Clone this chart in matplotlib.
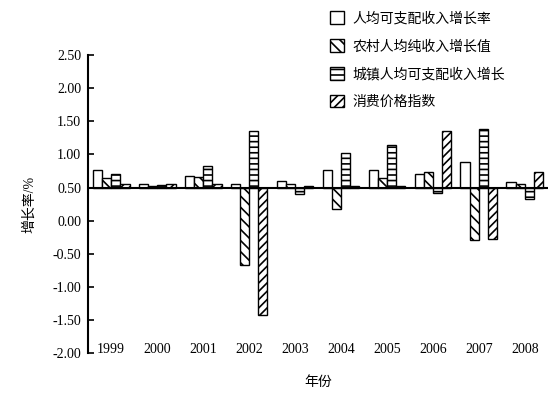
import numpy as np
import matplotlib.pyplot as plt

plt.rcParams['font.family'] = ['Liberation Serif', 'Noto Sans CJK SC']
plt.rcParams['axes.unicode_minus'] = False
plt.rcParams['hatch.linewidth'] = 1.2

# years on the x axis
years = ['1999', '2000', '2001', '2002', '2003', '2004', '2005', '2006', '2007', '2008']

# series values, read at the bar tips against the printed axis (bars start at 0.50)
s1 = [0.77, 0.56, 0.67, 0.56, 0.60, 0.76, 0.76, 0.71, 0.89, 0.58]
s2 = [0.65, 0.53, 0.66, -0.67, 0.56, 0.18, 0.64, 0.74, -0.29, 0.56]
s3 = [0.70, 0.54, 0.82, 1.35, 0.41, 1.02, 1.15, 0.42, 1.39, 0.32]
s4 = [0.56, 0.55, 0.55, -1.42, 0.52, 0.53, 0.53, 1.36, -0.27, 0.74]

labels = ['人均可支配收入增长率', '农村人均纯收入增长值', '城镇人均可支配收入增长', '消费价格指数']
hatches = ['', '\\\\\\', '---', '////']
baseline = 0.5

yticks = [2.5, 2.0, 1.5, 1.0, 0.5, 0.0, -0.5, -1.0, -1.5, -2.0]

fig = plt.figure(figsize=(5.55, 3.94), dpi=100)
ax = fig.add_axes([0.159, 0.104, 0.828, 0.756])

x = np.arange(len(years))
w = 0.2
series = [s1, s2, s3, s4]
handles = []
for i, vals in enumerate(series):
    vals = np.array(vals)
    b = ax.bar(x + (i - 1.5) * w, vals - baseline, width=w, bottom=baseline,
               color='white', edgecolor='black', hatch=hatches[i], linewidth=1.0)
    handles.append(b)

ax.axhline(baseline, color='black', lw=1.5)

ax.set_xlim(-0.5, len(years) - 0.5)
ax.set_ylim(-2.0, 2.5)
ax.set_yticks(yticks)
ax.set_yticklabels(['%.2f' % v for v in yticks])
ax.set_xticks(x)
ax.set_xticklabels(years)

for s in ['top', 'right', 'bottom']:
    ax.spines[s].set_visible(False)
ax.spines['left'].set_linewidth(1.5)
ax.tick_params(axis='y', direction='in', length=4, width=1.2, labelsize=10, pad=5)
ax.tick_params(axis='x', length=0, labelsize=10, pad=-7)

ax.set_ylabel('增长率/%', fontsize=10, labelpad=12)
ax.set_xlabel('年份', fontsize=10, labelpad=14)

fig.legend(handles, labels, loc='upper left', bbox_to_anchor=(0.585, 0.985),
           frameon=False, fontsize=10, handlelength=1.0, handleheight=1.0,
           labelspacing=1.0, handletextpad=0.6, borderaxespad=0)

fig.savefig('out.png', dpi=100)
